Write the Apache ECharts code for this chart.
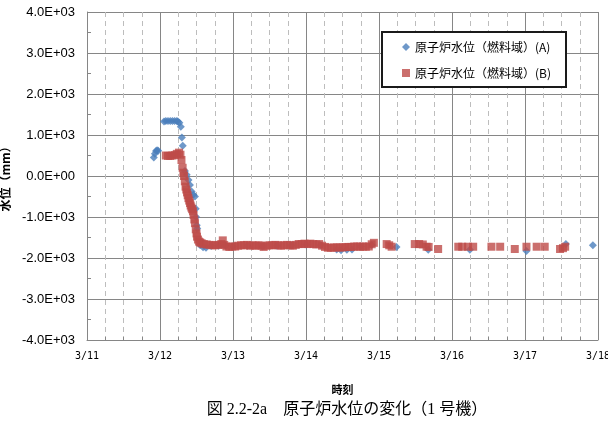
<!DOCTYPE html>
<html><head><meta charset="utf-8">
<script src="https://cdn.jsdelivr.net/npm/echarts@6/dist/echarts.min.js"></script>
<style>html,body{margin:0;padding:0;background:#fff}#c{width:608px;height:421px}</style>
</head><body><div id="c"></div>
<script>
// time axis: days since 3/11 00:00
var dayLabels = ['3/11','3/12','3/13','3/14','3/15','3/16','3/17','3/18'];
var seriesNames = ['原子炉水位（燃料域）(A)', '原子炉水位（燃料域）(B)'];

var daysA = [0.915,0.93,0.945,0.96,0.975,
  1.055,1.08,1.11,1.14,1.17,1.20,1.23,1.245,1.265,1.285,1.300,1.312,
  1.342,1.366,1.39,1.41,1.433,1.456,1.479,1.49,1.495,1.503,1.51,1.548,1.59,1.63,1.70,1.80,
  1.9,2.0,2.2,2.4,2.6,2.8,3.0,3.2,3.42,3.48,3.56,3.63,3.75,3.9,
  4.24,4.675,5.245,6.02,6.56,6.93];
var levelA = [450,540,610,630,615,
  1330,1340,1340,1340,1340,1340,1340,1330,1300,1200,940,740,
  120,30,-100,-220,-380,-460,-500,-800,-1000,-1200,-1280,-1680,-1740,-1750,-1710,-1700,
  -1700,-1720,-1700,-1720,-1700,-1690,-1670,-1690,-1790,-1810,-1800,-1790,-1720,-1680,
  -1730,-1800,-1800,-1830,-1660,-1690];

var daysB = [1.08,1.11,1.14,1.17,1.20,1.23,1.26,1.28,1.294,1.31,1.32,1.329,1.34,1.35,1.36,1.37,1.38,1.39,1.40,1.411,
  1.42,1.43,1.44,1.452,1.46,1.47,1.479,1.49,1.50,1.507,1.52,1.535,1.55,1.57,1.60,1.64,1.68,1.72,1.76,1.80,
  1.84,1.86,1.88,1.91,1.95,1.99,2.03,2.07,2.11,2.15,2.19,2.23,2.27,2.31,2.35,2.39,2.42,2.46,2.50,2.54,
  2.58,2.62,2.66,2.70,2.74,2.78,2.82,2.86,2.90,2.94,2.98,3.02,3.06,3.10,3.14,3.18,3.22,3.26,3.30,3.34,
  3.38,3.42,3.46,3.50,3.54,3.58,3.62,3.66,3.70,3.74,3.78,3.82,3.86,3.90,3.93,
  4.105,4.14,4.173,4.49,4.55,4.60,4.652,4.68,4.81,5.086,5.14,5.22,5.29,5.54,5.66,5.86,6.02,6.16,6.27,6.48,6.52,6.55];
var levelB = [500,490,490,500,510,540,570,520,390,200,80,0,-130,-260,-330,-400,-470,-540,-600,-660,
  -720,-770,-810,-860,-950,-1060,-1150,-1300,-1400,-1480,-1550,-1600,-1620,-1640,-1660,-1670,-1680,-1690,-1690,-1680,
  -1660,-1570,-1680,-1720,-1730,-1720,-1720,-1700,-1690,-1690,-1680,-1700,-1690,-1700,-1690,-1700,-1730,-1700,-1690,-1690,
  -1680,-1690,-1700,-1690,-1680,-1690,-1700,-1680,-1660,-1660,-1650,-1660,-1650,-1660,-1670,-1660,-1700,-1730,-1750,-1750,
  -1745,-1740,-1745,-1740,-1735,-1730,-1730,-1720,-1720,-1725,-1720,-1725,-1720,-1665,-1630,
  -1660,-1690,-1725,-1660,-1660,-1670,-1725,-1730,-1780,-1725,-1725,-1725,-1725,-1725,-1725,-1780,-1725,-1725,-1725,-1780,-1760,-1725];

function zip(a, b) { return a.map(function (v, i) { return [v, b[i]]; }); }

var chart = echarts.init(document.getElementById('c'), null, {renderer: 'canvas'});
var axisGray = '#868686';
chart.setOption({
  animation: false,
  grid: {left: 87, right: 10, top: 12, bottom: 81, containLabel: false, outerBoundsMode: 'none'},
  xAxis: {
    type: 'value', min: 0, max: 7, interval: 1,
    name: '時刻', nameLocation: 'middle', nameGap: 44,
    nameTextStyle: {fontSize: 11, fontWeight: 'bold', color: '#000', fontFamily: 'Noto Sans CJK JP'},
    axisLine: {onZero: false, lineStyle: {color: axisGray, width: 1}},
    axisTick: {show: false, inside: true},
    minorTick: {show: true, splitNumber: 4, length: 3, lineStyle: {color: axisGray}},
    axisLabel: {margin: 11, fontSize: 10, color: '#000', fontFamily: 'DejaVu Sans Mono',
      formatter: function (v) { return dayLabels[Math.round(v)]; }},
    splitLine: {show: true, lineStyle: {color: axisGray, width: 1}},
    minorSplitLine: {show: true, lineStyle: {color: '#bdbdbd', type: [5, 4], width: 1}}
  },
  yAxis: {
    type: 'value', min: -4000, max: 4000, interval: 1000,
    name: '水位（mm）', nameLocation: 'middle', nameGap: 73, nameRotate: 90,
    nameTextStyle: {fontSize: 12, fontWeight: 'bold', color: '#000', fontFamily: 'Noto Sans CJK JP'},
    axisLine: {show: true, lineStyle: {color: axisGray, width: 1}},
    axisTick: {show: false, inside: true},
    minorTick: {show: true, splitNumber: 2, length: 4, lineStyle: {color: axisGray}},
    axisLabel: {margin: 12, fontSize: 13, color: '#000', fontFamily: 'Liberation Sans',
      formatter: function (v) {
        if (v === 0) return '0.0E+00';
        return (v / 1000).toFixed(1) + 'E+03';
      }},
    splitLine: {show: true, lineStyle: {color: axisGray, width: 1}}
  },
  legend: {
    orient: 'vertical', left: 402, top: 41, padding: 0, itemGap: 14,
    itemWidth: 8, itemHeight: 8, z: 20,
    textStyle: {fontSize: 12, color: '#000', fontFamily: 'Noto Sans CJK JP'},
    data: [{name: seriesNames[0], icon: 'diamond'}, {name: seriesNames[1], icon: 'rect'}]
  },
  graphic: [
    {type: 'rect', z: 10, shape: {x: 382, y: 32, width: 184, height: 55},
      style: {fill: '#fff', stroke: '#1a1a1a', lineWidth: 2}},
    {type: 'text', z: 10, x: 347, y: 410,
      style: {text: '図 2.2-2a　原子炉水位の変化（1 号機）', fontSize: 16,
        fontFamily: "'Liberation Serif', 'Noto Sans CJK JP'", fill: '#000',
        textAlign: 'center', textVerticalAlign: 'middle'}}
  ],
  series: [
    {name: seriesNames[0], type: 'scatter', symbol: 'diamond', symbolSize: 8,
      itemStyle: {color: '#4A7EBB'}, data: zip(daysA, levelA)},
    {name: seriesNames[1], type: 'scatter', symbol: 'rect', symbolSize: 8,
      itemStyle: {color: '#BE4B48'}, data: zip(daysB, levelB)}
  ]
});
</script></body></html>
